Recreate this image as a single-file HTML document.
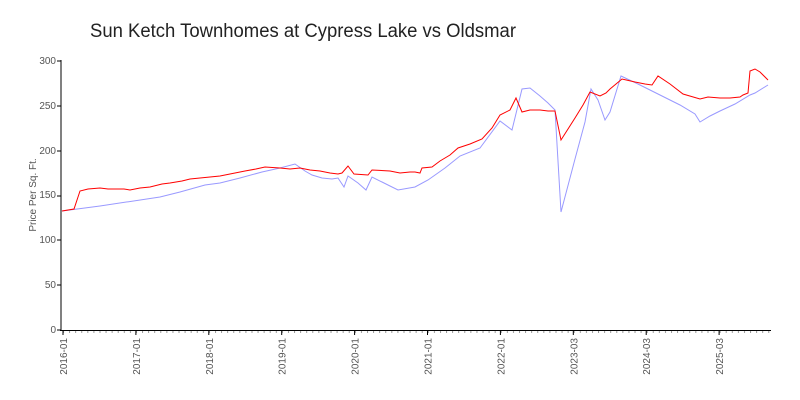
<!DOCTYPE html>
<html><head><meta charset="utf-8"><style>
html,body{margin:0;padding:0;background:#fff;}
svg{display:block;font-family:"Liberation Sans",sans-serif;}
</style></head><body>
<svg width="800" height="400" viewBox="0 0 800 400">
<defs>
<pattern id="mt" x="63" y="0" width="6.08" height="10" patternUnits="userSpaceOnUse">
<rect x="0" y="0" width="1" height="10" fill="#999"/>
</pattern>
</defs>
<text x="90" y="37" font-size="19" fill="#222" textLength="426" lengthAdjust="spacingAndGlyphs">Sun Ketch Townhomes at Cypress Lake vs Oldsmar</text>
<g font-size="10" fill="#555" text-anchor="end">
<text x="56" y="333">0</text>
<text x="56" y="288">50</text>
<text x="56" y="243">100</text>
<text x="56" y="198">150</text>
<text x="56" y="154">200</text>
<text x="56" y="109">250</text>
<text x="56" y="64">300</text>
</g>
<text transform="translate(36,195) rotate(-90)" font-size="10" fill="#555" text-anchor="middle">Price Per Sq. Ft.</text>
<rect x="62.5" y="330" width="708" height="3" fill="url(#mt)"/>
<g stroke="#000" stroke-width="1">
<line x1="61" y1="60" x2="61" y2="331"/>
<line x1="60" y1="330.5" x2="771" y2="330.5"/>
<line x1="57" y1="330" x2="61" y2="330"/><line x1="57" y1="285" x2="61" y2="285"/><line x1="57" y1="240" x2="61" y2="240"/><line x1="57" y1="196" x2="61" y2="196"/><line x1="57" y1="151" x2="61" y2="151"/><line x1="57" y1="106" x2="61" y2="106"/><line x1="57" y1="61" x2="61" y2="61"/>
<line x1="63" y1="330" x2="63" y2="335"/><line x1="135.9" y1="330" x2="135.9" y2="335"/><line x1="208.8" y1="330" x2="208.8" y2="335"/><line x1="281.7" y1="330" x2="281.7" y2="335"/><line x1="354.6" y1="330" x2="354.6" y2="335"/><line x1="427.5" y1="330" x2="427.5" y2="335"/><line x1="500.4" y1="330" x2="500.4" y2="335"/><line x1="573.3" y1="330" x2="573.3" y2="335"/><line x1="646.2" y1="330" x2="646.2" y2="335"/><line x1="719.1" y1="330" x2="719.1" y2="335"/>
</g>
<g font-size="10" fill="#555" text-anchor="end">
<text transform="translate(67,338) rotate(-90)">2016-01</text>
<text transform="translate(139.9,338) rotate(-90)">2017-01</text>
<text transform="translate(212.8,338) rotate(-90)">2018-01</text>
<text transform="translate(285.7,338) rotate(-90)">2019-01</text>
<text transform="translate(358.6,338) rotate(-90)">2020-01</text>
<text transform="translate(431.5,338) rotate(-90)">2021-01</text>
<text transform="translate(504.4,338) rotate(-90)">2022-01</text>
<text transform="translate(577.3,338) rotate(-90)">2023-03</text>
<text transform="translate(650.2,338) rotate(-90)">2024-03</text>
<text transform="translate(723.1,338) rotate(-90)">2025-03</text>
</g>
<polyline fill="none" stroke="#9999ff" stroke-width="1" points="62,211 100,206 160,197 180,192 205,185 220,183 240,178 262,172 280,168 295,164 305,171 312,175 322,178 332,179 338,178 344,187 348,176 358,183 366,190 372,177 382,182 390,186 398,190 415,187 428,180 445,168 460,156 480,148 500,121 512,130 522,89 530,88 540,96 548,103 555,110 561,212 575,159 585,122 591,89 598,100 605,120 610,112 621,76 640,85 660,95 680,105 695,114 700,122 710,116 720,111 735,104 750,95 755,93 768,85"/>
<polyline fill="none" stroke="#ff0000" stroke-width="1" points="62,211 74,209 80,191 88,189 100,188 108,189 124,189 130,190 140,188 150,187 162,184 170,183 182,181 190,179 200,178 210,177 220,176 230,174 245,171 256,169 265,167 280,168 290,169 300,168 310,170 320,171 330,173 338,174 342,173 348,166 354,174 368,175 372,170 390,171 400,173 410,172 415,172 420,173 422,168 432,167 440,161 450,155 458,148 470,144 482,139 492,128 500,115 510,110 516,98 522,112 530,110 540,110 548,111 555,111 561,140 575,118 583,105 590,92 600,96 606,93 610,89 622,79 635,82 645,84 652,85 658,76 670,84 683,94 700,99 708,97 720,98 730,98 740,97 743,95 748,93 750,71 755,69 760,72 768,80"/>
</svg>
</body></html>
